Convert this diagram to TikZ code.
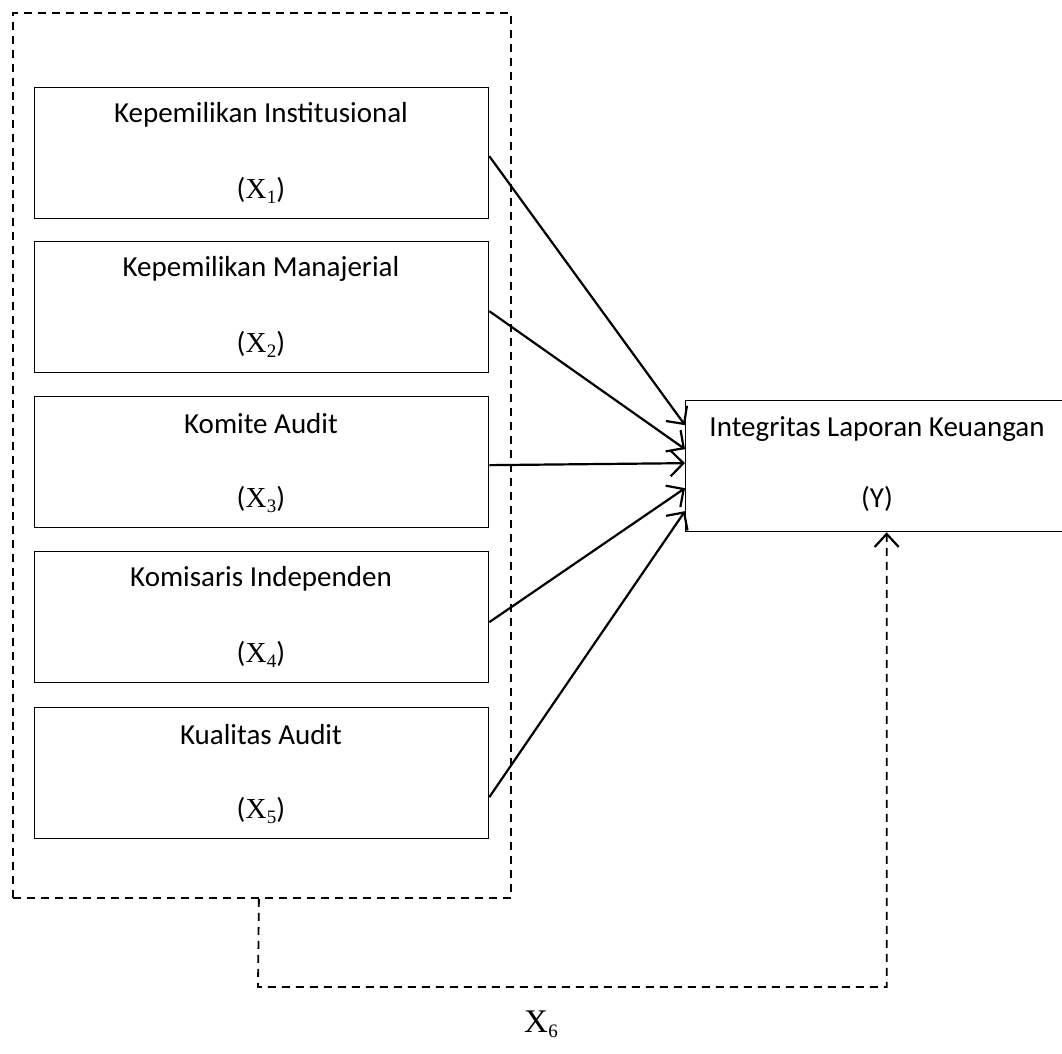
\documentclass[tikz,border=0pt]{standalone}
\usepackage[no-math]{fontspec}
\setmainfont{Carlito}
\newfontfamily\mserif{Liberation Serif}
\newcommand\varsub[2]{{\mserif #1\kern0.5pt\raisebox{-5pt}{\fontsize{19}{19}\selectfont #2}}}
\usetikzlibrary{arrows.meta,calc}
\begin{document}
\begin{tikzpicture}[x=1pt,y=-1pt,
  var/.style={draw,line width=1.3pt,minimum width=454pt,minimum height=131pt,inner sep=0pt,anchor=north west},
  lbl/.style={font=\fontsize{29}{34}\selectfont,inner sep=0pt},
  arr/.style={line width=2.2pt,-{Straight Barb[length=13pt,width=26pt,line width=2.2pt]}},
  dsh/.style={line width=1.8pt,dash pattern=on 8pt off 6pt}]
\useasboundingbox (0,0) rectangle (1062,1053);
% group box
\node[draw,dsh,minimum width=498pt,minimum height=885pt,anchor=north west,inner sep=0pt] (grp) at (12,12) {};
% independent variables
\foreach \i/\t/\lab in {1/87/Kepemilikan Institusional,2/241/Kepemilikan Manajerial,3/396/Komite Audit,4/551/Komisaris Independen,5/707/Kualitas Audit}{
  \node[var] (b\i) at (34,\t) {};
  \node[lbl] (b\i t) at (261,\t+28) {\lab};
  \node[lbl] (b\i x) at (261,\t+103) {(\varsub{X}{\i})};
}
% dependent variable
\node[var,minimum width=402pt] (y) at (685,400) {};
\node[lbl] (yt) at (877,429) {Integritas Laporan Keuangan};
\node[lbl] (yx) at (877,499) {(Y)};
% arrows
\draw[arr] ([yshift=-3pt]b1.east) -- ([yshift=41pt]y.west);
\draw[arr] ([yshift=-4pt]b2.east) -- ([yshift=17pt]y.west);
\draw[arr] ([yshift=-3pt]b3.east) -- ([yshift=3pt]y.west);
\draw[arr] ([yshift=-5pt]b4.east) -- ([yshift=-22pt]y.west);
\draw[arr] ([yshift=-24pt]b5.east) -- ([yshift=-45pt]y.west);
% moderating path
\coordinate (turn) at (258,987);
\draw[dsh,-{Straight Barb[length=13pt,width=24pt,line width=2.2pt]}] ([xshift=-3pt]grp.south) -- (turn) -| (y.south);
\node[font=\fontsize{33}{38}\selectfont,inner sep=0pt] (x6) at (541,1024) {\varsub{X}{6}};
\end{tikzpicture}
\end{document}
